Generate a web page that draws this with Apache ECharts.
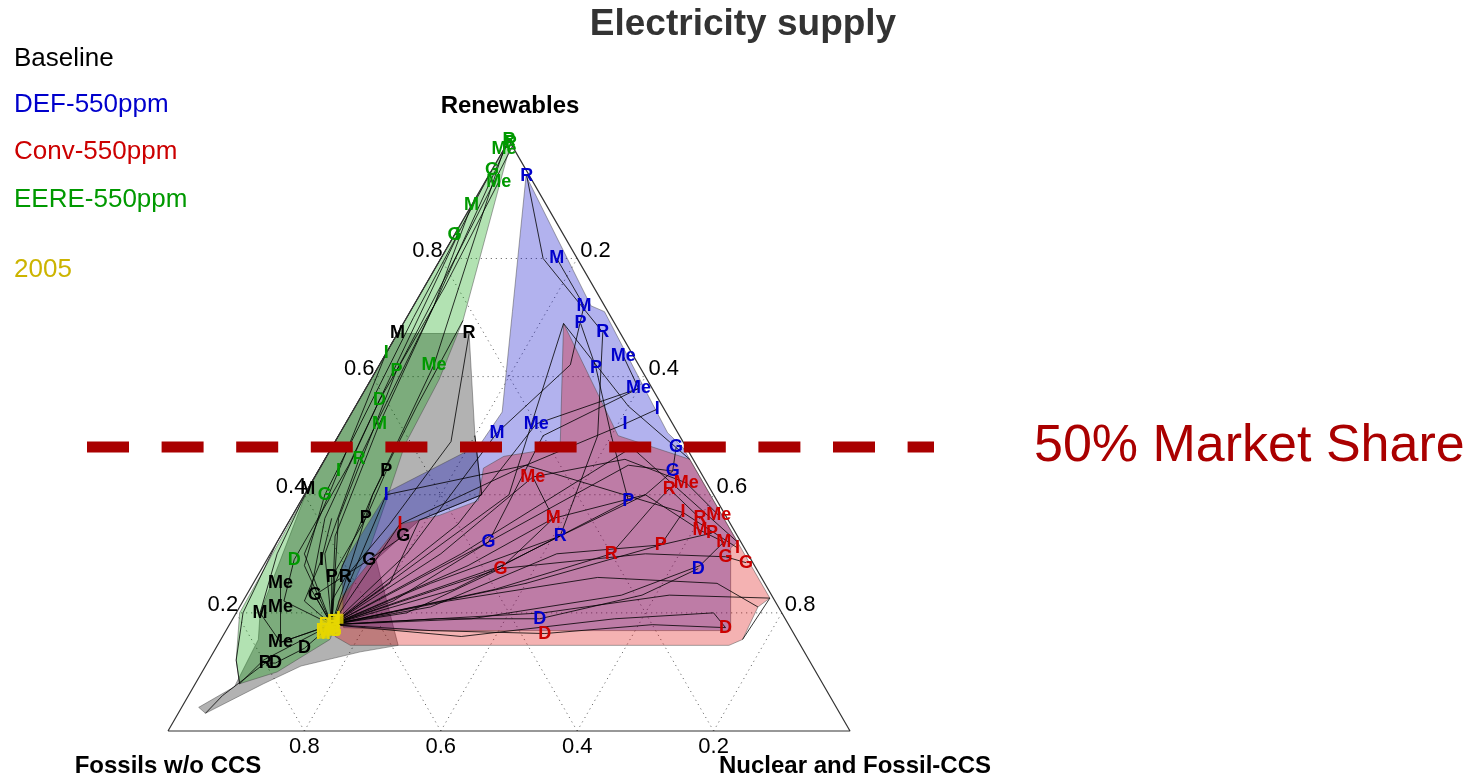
<!DOCTYPE html>
<html>
<head>
<meta charset="utf-8">
<title>Electricity supply</title>
<script src="https://cdn.jsdelivr.net/npm/echarts@6.0.0/dist/echarts.min.js"></script>
<style>
  html, body { margin: 0; padding: 0; background: #ffffff; }
  #chart { width: 1477px; height: 778px; }
</style>
</head>
<body>
<div id="chart"></div>
<script>
// Every share below is [renewables, nuclear & fossil-CCS]; fossils w/o CCS is the remainder.

const gridLevels = [0.2, 0.4, 0.6, 0.8];
const tickText = ['0.2', '0.4', '0.6', '0.8'];

const legendNames = ['Baseline', 'DEF-550ppm', 'Conv-550ppm', 'EERE-550ppm', '2005'];

// Scenario envelopes
const baselineHull = [[0.673,0.0],[0.673,0.105],[0.50,0.20],[0.40,0.26],[0.357,0.19],[0.29,0.16],[0.145,0.265],[0.134,0.215],[0.11,0.14],[0.08,0.10],[0.03,0.04],[0.04,0.025],[0.075,0.06],[0.155,0.055],[0.20,0.035],[0.41,0.0]];
const eereHull = [[1.0,0.0],[0.995,0.005],[0.695,0.085],[0.595,0.10],[0.485,0.105],[0.39,0.125],[0.315,0.14],[0.22,0.15],[0.155,0.16],[0.10,0.11],[0.08,0.065],[0.12,0.04],[0.20,0.005],[0.50,0.0]];
const defHull = [[0.94,0.055],[0.72,0.26],[0.71,0.285],[0.505,0.48],[0.48,0.515],[0.32,0.675],[0.31,0.67],[0.17,0.74],[0.17,0.285],[0.175,0.17],[0.28,0.115],[0.405,0.12],[0.485,0.215],[0.54,0.22],[0.71,0.15]];
const convHull = [[0.22,0.14],[0.35,0.165],[0.365,0.215],[0.39,0.26],[0.445,0.24],[0.465,0.26],[0.48,0.335],[0.69,0.235],[0.50,0.41],[0.46,0.535],[0.225,0.77],[0.21,0.76],[0.155,0.765],[0.145,0.75],[0.145,0.195],[0.16,0.165]];

// Model pathways
const eerePaths = [
  [[0.18,0.15],[0.30,0.08],[0.46,0.05],[0.72,0.03],[1.0,0.0]],
  [[0.18,0.15],[0.36,0.07],[0.61,0.03],[0.82,0.02],[0.99,0.01]],
  [[0.18,0.15],[0.40,0.10],[0.62,0.08],[0.80,0.04],[0.985,0.0]],
  [[0.18,0.15],[0.28,0.06],[0.40,0.03],[0.70,0.01],[0.95,0.0]],
  [[0.18,0.15],[0.33,0.08],[0.52,0.05],[0.72,0.03],[0.89,0.0]],
  [[0.18,0.15],[0.30,0.05],[0.44,0.03],[0.64,0.0],[0.84,0.0]],
  [[0.18,0.15],[0.22,0.06],[0.29,0.04],[0.45,0.04],[0.56,0.03],[0.75,0.03],[0.93,0.02]],
  [[0.18,0.15],[0.12,0.08],[0.08,0.065],[0.12,0.04],[0.20,0.01],[0.32,0.0],[0.50,0.0]],
  [[0.18,0.15],[0.25,0.12],[0.40,0.10],[0.55,0.09],[0.695,0.085]],
  [[0.18,0.15],[0.24,0.09],[0.36,0.05],[0.56,0.03],[0.84,0.005]]
];
const baselinePaths = [
  [[0.18,0.15],[0.15,0.09],[0.20,0.035],[0.30,0.01],[0.41,0.0],[0.55,0.0],[0.673,0.0]],
  [[0.18,0.15],[0.22,0.13],[0.26,0.13],[0.35,0.15],[0.49,0.17],[0.673,0.105]],
  [[0.18,0.15],[0.26,0.11],[0.36,0.11],[0.44,0.10]],
  [[0.18,0.15],[0.23,0.10],[0.29,0.15],[0.33,0.18]],
  [[0.18,0.15],[0.22,0.09],[0.29,0.08],[0.36,0.06]],
  [[0.18,0.15],[0.15,0.09],[0.21,0.06],[0.25,0.04]],
  [[0.18,0.15],[0.14,0.13],[0.115,0.10],[0.115,0.085],[0.06,0.05],[0.03,0.04]],
  [[0.18,0.15],[0.25,0.20],[0.357,0.19],[0.40,0.26],[0.50,0.20]]
];
const defPaths = [
  [[0.18,0.15],[0.25,0.26],[0.33,0.41],[0.50,0.38],[0.675,0.30],[0.80,0.15],[0.94,0.056]],
  [[0.18,0.15],[0.30,0.20],[0.505,0.23],[0.62,0.28],[0.72,0.25],[0.80,0.17]],
  [[0.18,0.15],[0.28,0.35],[0.39,0.48],[0.50,0.40],[0.615,0.32],[0.69,0.26]],
  [[0.18,0.15],[0.35,0.25],[0.52,0.28],[0.58,0.40],[0.635,0.35]],
  [[0.18,0.15],[0.40,0.12],[0.45,0.30],[0.52,0.41],[0.545,0.445]],
  [[0.18,0.15],[0.32,0.31],[0.45,0.45],[0.44,0.52],[0.48,0.505]],
  [[0.18,0.15],[0.19,0.30],[0.19,0.45],[0.23,0.58],[0.275,0.64]],
  [[0.18,0.15],[0.30,0.28],[0.48,0.44],[0.32,0.675]],
  [[0.18,0.15],[0.22,0.22],[0.32,0.31],[0.50,0.30],[0.58,0.40]],
  [[0.18,0.15],[0.24,0.30],[0.33,0.41],[0.40,0.50],[0.44,0.52]]
];
const convPaths = [
  [[0.18,0.15],[0.30,0.25],[0.43,0.32],[0.46,0.44],[0.42,0.55],[0.365,0.625]],
  [[0.18,0.15],[0.28,0.30],[0.36,0.385],[0.40,0.50],[0.34,0.61],[0.32,0.655]],
  [[0.18,0.15],[0.24,0.36],[0.30,0.50],[0.38,0.52],[0.41,0.53],[0.36,0.60]],
  [[0.18,0.15],[0.25,0.40],[0.315,0.565],[0.335,0.63]],
  [[0.18,0.15],[0.275,0.35],[0.30,0.55],[0.295,0.67],[0.285,0.705]],
  [[0.18,0.15],[0.35,0.165],[0.45,0.30],[0.37,0.57],[0.31,0.68]],
  [[0.18,0.15],[0.17,0.30],[0.165,0.47],[0.18,0.62],[0.175,0.73]],
  [[0.18,0.15],[0.40,0.30],[0.69,0.235],[0.55,0.40],[0.46,0.535]],
  [[0.18,0.15],[0.20,0.45],[0.23,0.62],[0.225,0.77],[0.155,0.765]],
  [[0.18,0.15],[0.22,0.30],[0.26,0.50],[0.25,0.68],[0.21,0.76]],
  [[0.18,0.15],[0.20,0.25],[0.275,0.35],[0.36,0.385],[0.43,0.32]],
  [[0.18,0.15],[0.19,0.35],[0.23,0.55],[0.28,0.64],[0.32,0.655]],
  [[0.18,0.15],[0.21,0.28],[0.30,0.42],[0.315,0.565],[0.37,0.57]],
  [[0.18,0.15],[0.16,0.35],[0.19,0.56],[0.20,0.70],[0.175,0.73]]
];

// Model markers: [model letter, renewables, nuclear & fossil-CCS]
const eereMarks = [
  ['R',1.0,0.0],['P',0.995,0.005],['Me',0.985,0.0],['G',0.95,0.0],['Me',0.93,0.02],['M',0.89,0.0],
  ['I',0.84,0.005],['G',0.84,0.0],['I',0.64,0.0],['P',0.61,0.03],['Me',0.62,0.08],['D',0.56,0.03],
  ['M',0.52,0.05],['R',0.46,0.05],['I',0.44,0.03],['G',0.40,0.03],['D',0.29,0.04]
];
const baselineMarks = [
  ['M',0.673,0.0],['R',0.673,0.105],['P',0.44,0.10],['M',0.41,0.0],['P',0.36,0.11],['G',0.33,0.18],
  ['G',0.29,0.15],['I',0.29,0.08],['Me',0.25,0.04],['P',0.26,0.11],['R',0.26,0.13],['G',0.23,0.10],
  ['Me',0.21,0.06],['M',0.20,0.035],['Me',0.15,0.09],['D',0.14,0.13],['R',0.115,0.085],['D',0.115,0.10]
];
const defMarks = [
  ['R',0.94,0.056],['M',0.80,0.17],['M',0.72,0.25],['P',0.69,0.26],['R',0.675,0.30],['Me',0.635,0.35],
  ['P',0.615,0.32],['Me',0.58,0.40],['I',0.545,0.445],['I',0.52,0.41],['M',0.505,0.23],['Me',0.52,0.28],
  ['G',0.48,0.505],['G',0.44,0.52],['I',0.40,0.12],['P',0.39,0.48],['G',0.32,0.31],['R',0.33,0.41],
  ['D',0.275,0.64],['D',0.19,0.45]
];
const convMarks = [
  ['Me',0.43,0.32],['R',0.41,0.53],['Me',0.42,0.55],['I',0.37,0.57],['R',0.36,0.60],['Me',0.365,0.625],
  ['M',0.34,0.61],['P',0.335,0.63],['M',0.32,0.655],['I',0.31,0.68],['G',0.295,0.67],['G',0.285,0.705],
  ['P',0.315,0.565],['R',0.30,0.50],['M',0.36,0.385],['G',0.275,0.35],['I',0.35,0.165],
  ['D',0.175,0.73],['D',0.165,0.47]
];
const marks2005 = [
  ['P',0.18,0.14],['R',0.185,0.15],['Me',0.17,0.15],['G',0.17,0.16],['M',0.165,0.145],['I',0.19,0.155],['D',0.175,0.155]
];

// ---- layout of the triangle on the page ----
const W = 1477, H = 778;
const TRI_LEFT = 168, TRI_BASE = 731, TRI_SIDE = 682;
const S3 = Math.sqrt(3) / 2;
const FONT = '"Liberation Sans", Arial, Helvetica, sans-serif';

const COLORS = {
  baseline: '#000000',
  def: '#0000cc',
  conv: '#cc0000',
  eere: '#009900',
  y2005: '#ccb400',
  y2005Mark: '#e6d600'
};

// ternary share -> cartesian (side length 1, apex = renewables)
const toXY = p => [p[1] + p[0] / 2, p[0] * S3];

function textLayer(items, style, dx, dy, z) {
  return {
    type: 'custom', coordinateSystem: 'cartesian2d', silent: true, animation: false, z: z,
    data: items.map(it => toXY(it.p)),
    renderItem: (params, api) => {
      const c = api.coord([api.value(0), api.value(1)]);
      const it = items[params.dataIndex];
      return {
        type: 'text', x: c[0] + dx, y: c[1] + dy,
        style: Object.assign({ text: it.t, fontFamily: FONT }, style)
      };
    }
  };
}

function polygonLayer(pts, fill, z) {
  return {
    type: 'custom', coordinateSystem: 'cartesian2d', silent: true, animation: false, z: z,
    data: [[0, 0]],
    renderItem: (params, api) => ({
      type: 'polygon',
      shape: { points: pts.map(p => api.coord(toXY(p))) },
      style: { fill: fill, stroke: 'rgba(70,70,70,0.6)', lineWidth: 0.8 }
    })
  };
}

function pathLayer(pts, color, width, type, z) {
  return {
    type: 'line', data: pts.map(toXY), symbol: 'none', silent: true, animation: false, z: z,
    lineStyle: { color: color, width: width, type: type }
  };
}

function marksLayer(marks, color) {
  return textLayer(
    marks.map(m => ({ t: m[0], p: [m[1], m[2]] })),
    { fill: color, fontSize: 18, fontWeight: 'bold', align: 'center', verticalAlign: 'middle' },
    0, 0, 8
  );
}

const series = [];

// dotted ternary grid
gridLevels.forEach(v => {
  series.push(pathLayer([[v, 0], [v, 1 - v]], '#555', 1, [1, 4], 1));
  series.push(pathLayer([[0, v], [1 - v, v]], '#555', 1, [1, 4], 1));
  series.push(pathLayer([[0, 1 - v], [1 - v, 0]], '#555', 1, [1, 4], 1));
});

// scenario envelopes
series.push(polygonLayer(baselineHull, 'rgba(0,0,0,0.30)', 2));
series.push(polygonLayer(eereHull, 'rgba(0,160,0,0.30)', 2));
series.push(polygonLayer(defHull, 'rgba(0,0,200,0.30)', 2));
series.push(polygonLayer(convHull, 'rgba(220,0,0,0.30)', 2));

// pathways
[eerePaths, baselinePaths, defPaths, convPaths].forEach(group => {
  group.forEach(path => series.push(pathLayer(path, '#000', 0.8, 'solid', 4)));
});

// triangle frame
series.push(pathLayer([[0, 0], [1, 0], [0, 1], [0, 0]], '#333', 1.2, 'solid', 5));

// 2005 starting points
series.push({
  type: 'scatter', silent: true, animation: false, z: 7,
  data: marks2005.map(m => toXY([m[1], m[2]])),
  symbol: 'rect', symbolSize: 10,
  itemStyle: { color: COLORS.y2005Mark }
});

// model letters
series.push(marksLayer(baselineMarks, COLORS.baseline));
series.push(marksLayer(eereMarks, COLORS.eere));
series.push(marksLayer(defMarks, COLORS.def));
series.push(marksLayer(convMarks, COLORS.conv));
series.push(marksLayer(marks2005, COLORS.y2005Mark));

// tick labels
const tickStyle = { fill: '#000', fontSize: 22 };
series.push(textLayer(gridLevels.map((v, i) => ({ t: tickText[i], p: [v, 0] })),
  Object.assign({ align: 'right', verticalAlign: 'bottom' }, tickStyle), 2, 3, 9));
series.push(textLayer(gridLevels.map((v, i) => ({ t: tickText[gridLevels.length - 1 - i], p: [v, 1 - v] })),
  Object.assign({ align: 'left', verticalAlign: 'bottom' }, tickStyle), 3, 3, 9));
series.push(textLayer(gridLevels.map((v, i) => ({ t: tickText[i], p: [0, 1 - v] })),
  Object.assign({ align: 'center', verticalAlign: 'top' }, tickStyle), 0, 5, 9));

// corner titles
const cornerStyle = { fill: '#000', fontSize: 24, fontWeight: 'bold', align: 'center', verticalAlign: 'middle' };
series.push(textLayer([{ t: 'Renewables', p: [1, 0] }], cornerStyle, 1, -34, 9));
series.push(textLayer([{ t: 'Fossils w/o CCS', p: [0, 0] }], cornerStyle, 0, 35, 9));
series.push(textLayer([{ t: 'Nuclear and Fossil-CCS', p: [0, 1] }], cornerStyle, 5, 35, 9));

const legendColors = [COLORS.baseline, COLORS.def, COLORS.conv, COLORS.eere, COLORS.y2005];
const legendY = [59, 105, 152, 200, 270];

const graphics = [
  {
    type: 'text', x: 743, y: 25, z: 20,
    style: { text: 'Electricity supply', fill: '#333', fontSize: 37, fontWeight: 'bold', fontFamily: FONT,
             align: 'center', verticalAlign: 'middle' }
  },
  {
    type: 'line', z: 20,
    shape: { x1: 87, y1: 447, x2: 934, y2: 447 },
    style: { stroke: '#aa0000', lineWidth: 11, lineDash: [42, 32.6], lineCap: 'butt' }
  },
  {
    type: 'text', x: 1034, y: 447, z: 20,
    style: { text: '50% Market Share', fill: '#aa0000', fontSize: 52, fontFamily: FONT,
             align: 'left', verticalAlign: 'middle' }
  }
];
legendNames.forEach((name, i) => {
  graphics.push({
    type: 'text', x: 14, y: legendY[i], z: 20,
    style: { text: name, fill: legendColors[i], fontSize: 26, fontFamily: FONT,
             align: 'left', verticalAlign: 'middle' }
  });
});

const chart = echarts.init(document.getElementById('chart'), null, { renderer: 'canvas' });
chart.setOption({
  animation: false,
  backgroundColor: '#ffffff',
  grid: { left: 0, top: 0, width: W, height: H, containLabel: false },
  xAxis: { type: 'value', min: -TRI_LEFT / TRI_SIDE, max: (W - TRI_LEFT) / TRI_SIDE, show: false, splitLine: { show: false } },
  yAxis: { type: 'value', min: (TRI_BASE - H) / TRI_SIDE, max: TRI_BASE / TRI_SIDE, show: false, splitLine: { show: false } },
  series: series,
  graphic: graphics
});
</script>
</body>
</html>
